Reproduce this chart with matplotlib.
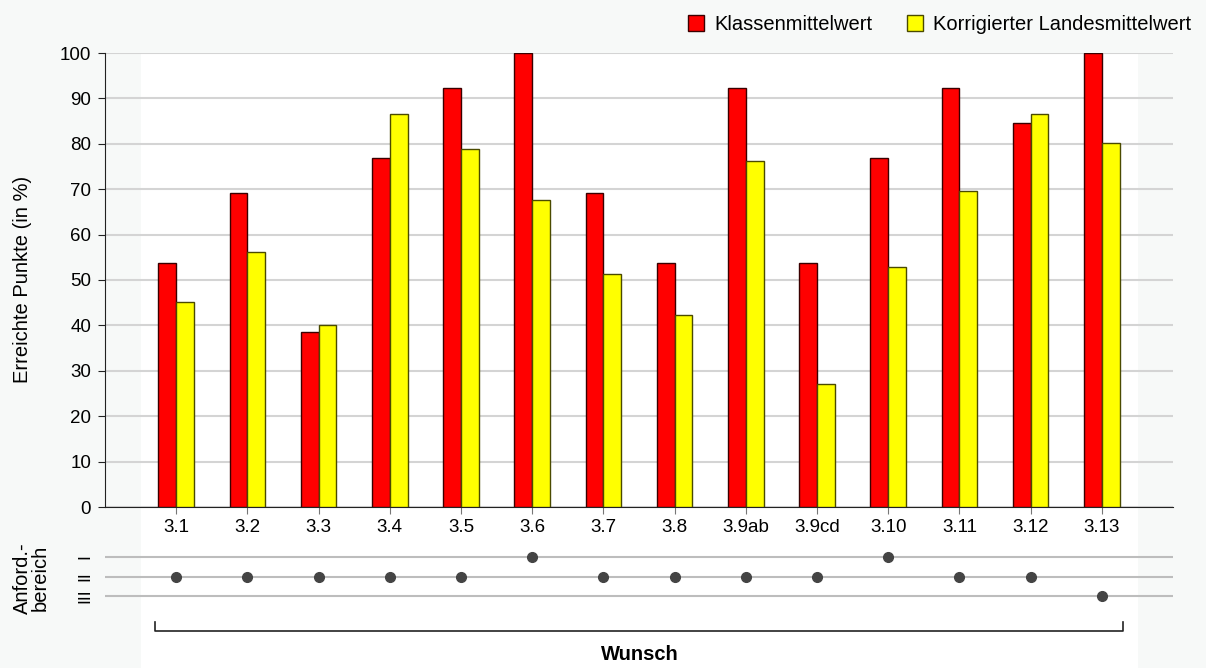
import numpy as np
import matplotlib.pyplot as plt
from matplotlib.patches import Rectangle
from matplotlib.lines import Line2D

plt.rcParams['font.family'] = ['Liberation Sans', 'DejaVu Sans']

# Daten
aufgaben = ["3.1", "3.2", "3.3", "3.4", "3.5", "3.6", "3.7", "3.8",
            "3.9ab", "3.9cd", "3.10", "3.11", "3.12", "3.13"]
klasse = [53.8, 69.2, 38.5, 76.9, 92.3, 100, 69.2, 53.8, 92.3, 53.8, 76.9, 92.3, 84.6, 100]
land = [45.2, 56.1, 40.1, 86.5, 78.9, 67.6, 51.3, 42.3, 76.3, 27.2, 52.8, 69.7, 86.5, 80.1]
bereich_labels = ["I", "II", "III"]
bereich = [2, 2, 2, 2, 2, 1, 2, 2, 2, 2, 1, 2, 2, 3]

W, H = 1206, 668
fig = plt.figure(figsize=(W / 100, H / 100), dpi=100, facecolor="#f7f9f8")

def fx(px):
    return px / W

def fy(py):
    return 1 - py / H

# weisser Hintergrund
fig.patches.append(Rectangle((fx(141), 0), fx(1138) - fx(141), fy(54),
                             transform=fig.transFigure, facecolor="white",
                             edgecolor="none", zorder=-10))

fs = 14.5

ax = fig.add_axes([fx(105), fy(507), fx(1173) - fx(105), fy(53) - fy(507)])
ax.set_facecolor("none")

x = np.arange(len(aufgaben))
bw = 0.25
ax.bar(x - bw / 2, klasse, bw, color="#ff0000", edgecolor="#3a0000", linewidth=1,
       zorder=3, label="Klassenmittelwert")
ax.bar(x + bw / 2, land, bw, color="#ffff00", edgecolor="#4a4a00", linewidth=1,
       zorder=3, label="Korrigierter Landesmittelwert")

ax.set_xlim(-1, len(aufgaben))
ax.set_ylim(0, 100)
ax.set_yticks(range(0, 101, 10))
ax.yaxis.grid(True, color="#d4d4d4", linewidth=1.5, zorder=0)
ax.set_axisbelow(True)
for s in ["top", "right"]:
    ax.spines[s].set_visible(False)
ax.spines["left"].set_color("#222222")
ax.spines["bottom"].set_color("#222222")
ax.set_xticks(x)
ax.set_xticklabels(aufgaben, fontsize=13.5)
ax.tick_params(axis="x", length=5, color="#777777", pad=4)
ax.tick_params(axis="y", length=5, color="#222222", labelsize=13.5, pad=5)
fig.text(fx(23), fy(279), "Erreichte Punkte (in %)", rotation=90,
         ha="center", va="center", fontsize=fs)

ax.legend(loc="upper right", bbox_to_anchor=(fx(1199), fy(7)),
          bbox_transform=fig.transFigure, ncol=2, frameon=False,
          fontsize=fs, handlelength=0.8, handleheight=0.8,
          handletextpad=0.5, columnspacing=1.7, borderaxespad=0)

# Anforderungsbereich
ax2 = fig.add_axes([fx(105), fy(605.75), fx(1173) - fx(105), fy(547.25) - fy(605.75)])
ax2.set_facecolor("none")
ax2.set_xlim(-1, len(aufgaben))
ax2.set_ylim(3.5, 0.5)
for lvl in range(1, 4):
    ax2.axhline(lvl, color="#bdbdbd", linewidth=1.5, zorder=1)
ax2.plot(x, bereich, "o", color="#444444", markersize=7, zorder=3)
for s in ax2.spines.values():
    s.set_visible(False)
ax2.set_xticks([])
ax2.set_yticks([1, 2, 3])
ax2.set_yticklabels(bereich_labels, rotation=90, va="center", fontsize=12.5)
ax2.tick_params(axis="y", length=0, pad=9)
fig.text(fx(31), fy(578), "Anford.-\nbereich", rotation=90, ha="center",
         va="center", fontsize=fs, linespacing=0.9, multialignment="center")

# Klammer
fig.add_artist(Line2D([fx(155), fx(155), fx(1123), fx(1123)],
                      [fy(622), fy(631), fy(631), fy(622)],
                      transform=fig.transFigure, color="#222222", linewidth=1.2))
fig.text(fx(640), fy(655), "Wunsch", ha="center", va="center",
         fontsize=fs, fontweight="bold")

fig.savefig("out.png", dpi=100, facecolor=fig.get_facecolor())
